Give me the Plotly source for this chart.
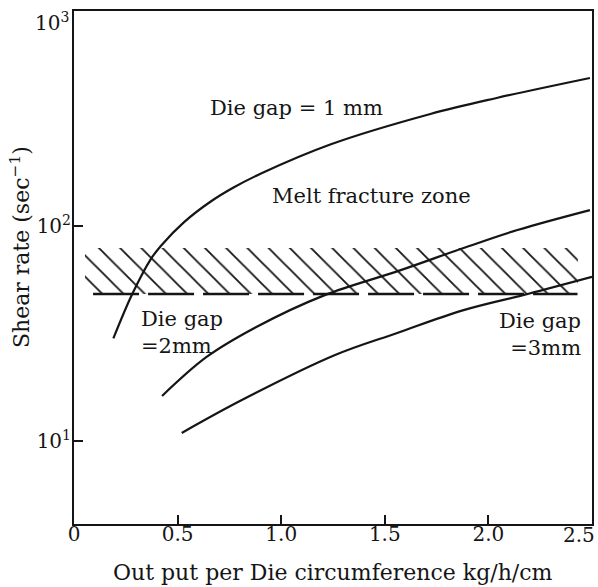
import plotly.graph_objects as go
import numpy as np

# Output per die circumference (kg/h/cm) vs shear rate (1/s) for three die gaps
gap1_x = [0.19, 0.28, 0.37, 0.42, 0.53, 0.66, 0.77, 0.90, 1.24, 1.72, 2.04, 2.49]
gap1_y = [30, 48, 70, 81, 104, 130, 151, 175, 240, 332, 394, 488]

gap2_x = [0.425, 0.64, 0.88, 1.21, 1.57, 1.88, 2.14, 2.49]
gap2_y = [16.2, 24.6, 33.9, 47.7, 62, 79, 95.8, 118.6]

gap3_x = [0.52, 0.81, 1.26, 1.56, 1.88, 2.19, 2.50]
gap3_y = [10.9, 15.5, 25.1, 31.8, 40.6, 48.3, 58]

# Melt fracture band (hatched) and its lower limit (dashed)
zone_x = [0.053, 2.432]
zone_low = 48.3
zone_high = 79
limit_x = [0.092, 2.43]

x_ticks = [0, 0.5, 1.0, 1.5, 2.0, 2.5]
x_labels = ["0", "0.5", "1.0", "1.5", "2.0", "2.5"]
y_ticks = [10, 100, 1000]
y_labels = ["10<sup>1</sup>", "10<sup>2</sup>", "10<sup>3</sup>"]

FONT = "DejaVu Serif"
INK = "#151515"

fig = go.Figure()

# hatched zone
fig.add_trace(go.Scatter(
    x=[zone_x[0], zone_x[1], zone_x[1], zone_x[0], zone_x[0]],
    y=[zone_low, zone_low, zone_high, zone_high, zone_low],
    mode="lines", line=dict(width=0, color="rgba(0,0,0,0)"),
    fill="toself", fillcolor="white",
    fillpattern=dict(shape="\\", size=15, solidity=0.12,
                     fgcolor=INK, bgcolor="white", fillmode="replace"),
    hoverinfo="skip", showlegend=False,
))

# dashed lower limit of the zone
fig.add_trace(go.Scatter(
    x=limit_x, y=[zone_low, zone_low], mode="lines",
    line=dict(color=INK, width=2.5, dash="46px,9px"),
    hoverinfo="skip", showlegend=False,
))

for xs, ys in [(gap1_x, gap1_y), (gap2_x, gap2_y), (gap3_x, gap3_y)]:
    fig.add_trace(go.Scatter(
        x=xs, y=ys, mode="lines",
        line=dict(color=INK, width=2.2, shape="spline", smoothing=1.0),
        hoverinfo="skip", showlegend=False,
    ))

txt = dict(family=FONT, size=21, color=INK)
fig.add_annotation(x=1.076, y=np.log10(354), text="Die gap = 1 mm", showarrow=False,
                   font=txt, xanchor="center", yanchor="middle")
fig.add_annotation(x=1.438, y=np.log10(138), text="Melt fracture zone", showarrow=False,
                   font=txt, xanchor="center", yanchor="middle")
fig.add_annotation(x=0.314, y=np.log10(32), text="Die gap<br>=2mm", showarrow=False,
                   font=txt, xanchor="left", yanchor="middle", align="left")
fig.add_annotation(x=2.457, y=np.log10(31.3), text="Die gap<br>=3mm", showarrow=False,
                   font=txt, xanchor="right", yanchor="middle", align="right")

# axis titles
fig.add_annotation(xref="paper", yref="paper", x=-0.104, y=0.54,
                   text="Shear rate (sec<sup>−1</sup>)", textangle=-90,
                   showarrow=False, font=dict(family=FONT, size=22, color=INK),
                   xanchor="center", yanchor="middle")
fig.add_annotation(xref="paper", yref="paper", x=0.5, y=-0.0955,
                   text="Out put per Die circumference kg/h/cm",
                   showarrow=False, font=dict(family=FONT, size=22, color=INK),
                   xanchor="center", yanchor="middle")

tick_font = dict(family=FONT, size=20, color=INK)

# the end-of-axis labels sit tucked inside the page edges
fig.add_annotation(xref="x", yref="paper", x=x_ticks[-1], y=0, text=x_labels[-1],
                   showarrow=False, font=tick_font, xanchor="right", yanchor="middle",
                   xshift=5, yshift=-11)
fig.add_annotation(xref="paper", yref="y", x=0, y=np.log10(y_ticks[-1]), text=y_labels[-1],
                   showarrow=False, font=tick_font, xanchor="right", yanchor="middle",
                   xshift=-3, yshift=-11)

axis_common = dict(showline=True, linewidth=2, linecolor=INK, mirror=True,
                   showgrid=False, zeroline=False, ticks="inside", ticklen=9,
                   tickwidth=1.5, tickcolor=INK, automargin=False,
                   tickfont=tick_font)

fig.update_xaxes(range=[0, 2.5], tickvals=x_ticks[:-1], ticktext=x_labels[:-1],
                 ticklabelstandoff=-9, **axis_common)
fig.update_yaxes(type="log", range=[0.614, 3], tickvals=y_ticks[:-1], ticktext=y_labels[:-1],
                 ticklabelstandoff=-3, **axis_common)

fig.update_layout(
    width=598, height=587,
    margin=dict(l=74, r=6, t=11, b=63, autoexpand=False),
    paper_bgcolor="white", plot_bgcolor="white",
    showlegend=False,
)

fig.write_html("out.html")
